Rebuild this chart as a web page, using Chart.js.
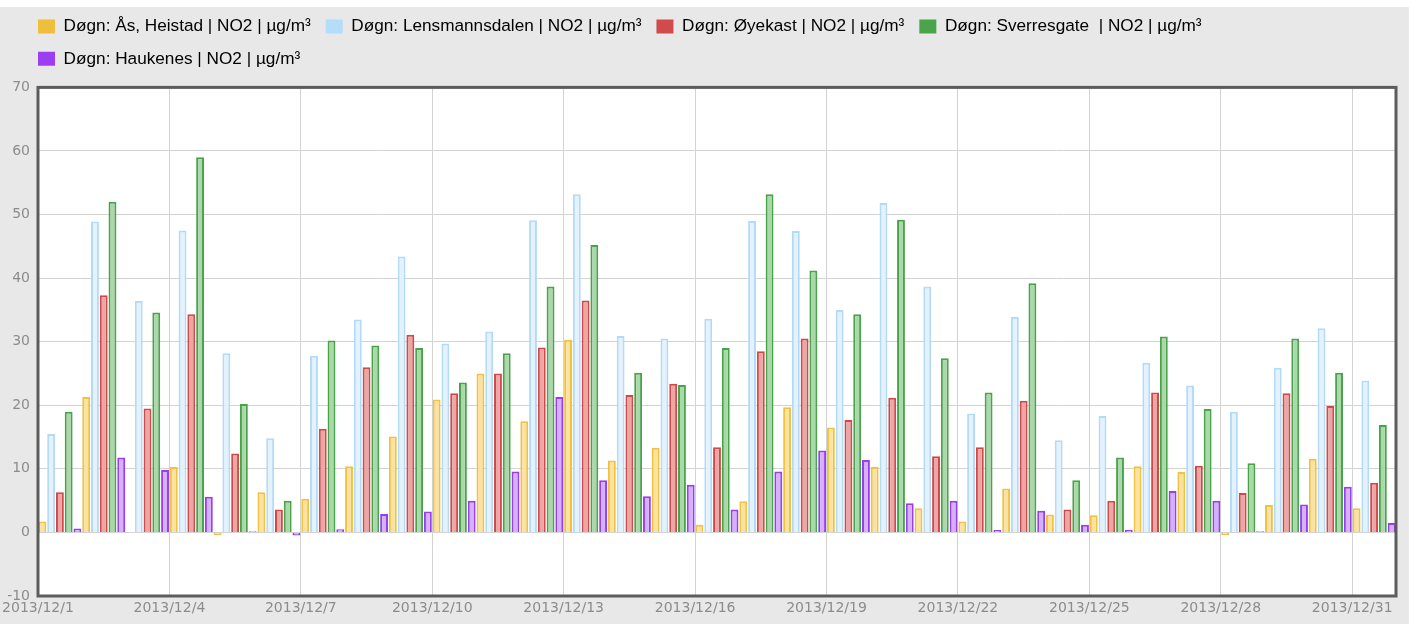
<!DOCTYPE html>
<html>
<head>
<meta charset="utf-8">
<title>NO2 døgn desember 2013</title>
<script src="https://cdn.jsdelivr.net/npm/chart.js@4.4.1/dist/chart.umd.min.js"></script>
<style>
  html, body { margin: 0; padding: 0; background: #ffffff; }
  canvas { display: block; }
</style>
</head>
<body>
<canvas id="no2Chart" width="1413" height="624"></canvas>
<script>
// Dager i desember 2013
const dates = [
    '2013/12/1', '2013/12/2', '2013/12/3', '2013/12/4', '2013/12/5', '2013/12/6', '2013/12/7',
    '2013/12/8', '2013/12/9', '2013/12/10', '2013/12/11', '2013/12/12', '2013/12/13', '2013/12/14',
    '2013/12/15', '2013/12/16', '2013/12/17', '2013/12/18', '2013/12/19', '2013/12/20', '2013/12/21',
    '2013/12/22', '2013/12/23', '2013/12/24', '2013/12/25', '2013/12/26', '2013/12/27', '2013/12/28',
    '2013/12/29', '2013/12/30', '2013/12/31'
];
const xTickLabels = ['2013/12/1', '2013/12/4', '2013/12/7', '2013/12/10', '2013/12/13', '2013/12/16',
    '2013/12/19', '2013/12/22', '2013/12/25', '2013/12/28', '2013/12/31'];
const yMin = -10, yMax = 70, yStep = 10;

const seriesNames = [
    'Døgn: Ås, Heistad | NO2 | µg/m³',
    'Døgn: Lensmannsdalen | NO2 | µg/m³',
    'Døgn: Øyekast | NO2 | µg/m³',
    'Døgn: Sverresgate  | NO2 | µg/m³',
    'Døgn: Haukenes | NO2 | µg/m³'
];

// Døgnmiddel NO2 (µg/m³)
const asHeistad = [1.7, 21.3, null, 10.3, -0.4, 6.3, 5.3, 10.4, 15.1, 20.9, 25.0, 17.5, 30.3, 11.3, 13.3, 1.2,
    4.9, 19.7, 16.5, 10.3, 3.8, 1.7, 6.9, 2.8, 2.7, 10.4, 9.5, -0.4, 4.3, 11.6, 3.8];
const lensmannsdalen = [15.5, 48.9, 36.4, 47.5, 28.2, 14.8, 27.8, 33.5, 43.4, 29.7, 31.6, 49.1, 53.2, 30.9, 30.5, 33.6,
    49.0, 47.4, 35.0, 51.8, 38.7, 18.7, 33.9, 14.5, 18.3, 26.7, 23.1, 19.0, 25.9, 32.1, 23.9];
const oyekast = [6.3, 37.3, 19.5, 34.3, 12.4, 3.6, 16.3, 26.0, 31.1, 21.9, 25.0, 29.1, 36.5, 21.6, 23.4, 13.4,
    28.5, 30.5, 17.7, 21.2, 12.0, 13.4, 20.7, 3.6, 5.0, 22.0, 10.5, 6.2, 21.9, 19.9, 7.8];
const sverresgate = [19.0, 52.0, 34.6, 59.0, 20.2, 5.0, 30.2, 29.4, 29.0, 23.6, 28.2, 38.7, 45.2, 25.1, 23.2, 29.0,
    53.2, 41.2, 34.3, 49.2, 27.4, 22.0, 39.2, 8.2, 11.8, 30.8, 19.4, 10.9, 30.5, 25.1, 16.9];
const haukenes = [0.6, 11.8, 9.8, 5.6, 0.2, -0.5, 0.5, 2.9, 3.3, 5.0, 9.6, 21.3, 8.2, 5.7, 7.5, 3.6,
    9.6, 12.9, 11.4, 4.6, 5.0, 0.4, 3.4, 1.2, 0.4, 6.5, 5.0, 0.2, 4.4, 7.2, 1.5];

const seriesValues = [asHeistad, lensmannsdalen, oyekast, sverresgate, haukenes];
const solidColors = ['#efbe3c', '#b5dcf9', '#d24b4b', '#4aa54a', '#9b3ff0'];
const fillColors = ['#f9e2a2', '#e4f2fd', '#eba6a6', '#acd7ac', '#d4b1f8'];
const edgeColors = ['#f2c23e', '#b3dbf8', '#d24848', '#48a448', '#9a3cf2'];

const tickFont = { family: 'DejaVu Sans', size: 14 };
const gridColor = '#d3d3d3';

// grå bakgrunn, hvitt plottområde og mørk ramme
const plotFrame = {
    id: 'plotFrame',
    beforeDraw(chart) {
        const { ctx, chartArea: a, width, height } = chart;
        ctx.save();
        ctx.fillStyle = '#e8e8e8';
        ctx.fillRect(0, 7, width - 4, height - 7);
        ctx.fillStyle = '#ffffff';
        ctx.fillRect(a.left, a.top, a.right - a.left, a.bottom - a.top);
        ctx.restore();
    },
    afterDraw(chart) {
        const { ctx, chartArea: a } = chart;
        ctx.save();
        ctx.strokeStyle = '#5c5c5c';
        ctx.lineWidth = 3;
        ctx.strokeRect(a.left, a.top, a.right - a.left, a.bottom - a.top);
        ctx.restore();
    }
};

// legenden: litt luft under, og start på linje med plottet
const legendPlace = {
    id: 'legendPlace',
    beforeLayout(chart) {
        const lg = chart.legend;
        if (lg && !lg._gapPatched) {
            const fit = lg.fit;
            lg.fit = function () { fit.call(this); this.height += 10; };
            lg._gapPatched = true;
        }
    },
    afterLayout(chart) {
        if (chart.legend) chart.legend.left += 23;
    }
};

const ctx = document.getElementById('no2Chart').getContext('2d');
const no2Chart = new Chart(ctx, {
    type: 'bar',
    data: {
        datasets: seriesValues.map((vals, i) => ({
            label: seriesNames[i],
            data: vals.map((v, d) => ({ x: d + 0.5, y: v })),
            backgroundColor: fillColors[i],
            borderColor: edgeColors[i],
            borderWidth: 2,
            categoryPercentage: 1.0,
            barPercentage: 0.9
        }))
    },
    options: {
        responsive: false,
        animation: false,
        layout: { padding: { top: 3, right: 17, left: 0, bottom: 0 } },
        scales: {
            x: {
                type: 'linear',
                min: 0,
                max: dates.length,
                offset: false,
                grid: { color: gridColor, drawTicks: false, offset: false },
                border: { display: false },
                afterBuildTicks: axis => {
                    axis.ticks = xTickLabels.map(l => ({ value: dates.indexOf(l) }));
                },
                afterFit: axis => {
                    axis.height = 28;
                    axis.paddingLeft = 0;
                    axis.paddingRight = 0;
                },
                ticks: {
                    color: '#8c8c8c',
                    font: tickFont,
                    padding: 4,
                    maxRotation: 0,
                    autoSkip: false,
                    callback: v => dates[v]
                }
            },
            y: {
                min: yMin,
                max: yMax,
                grid: { color: gridColor, drawTicks: false },
                border: { display: false },
                afterFit: axis => { axis.width = 38; },
                ticks: { stepSize: yStep, color: '#8c8c8c', font: tickFont, padding: 8 }
            }
        },
        plugins: {
            tooltip: { enabled: false },
            legend: {
                position: 'top',
                align: 'start',
                labels: {
                    color: '#444444',
                    font: { family: 'Liberation Sans', size: 17.2 },
                    boxWidth: 17,
                    boxHeight: 14,
                    padding: 15,
                    generateLabels: chart => chart.data.datasets.map((ds, i) => ({
                        text: ds.label,
                        fillStyle: solidColors[i],
                        strokeStyle: solidColors[i],
                        lineWidth: 0,
                        hidden: false,
                        datasetIndex: i
                    }))
                }
            }
        }
    },
    plugins: [plotFrame, legendPlace]
});
</script>
</body>
</html>
